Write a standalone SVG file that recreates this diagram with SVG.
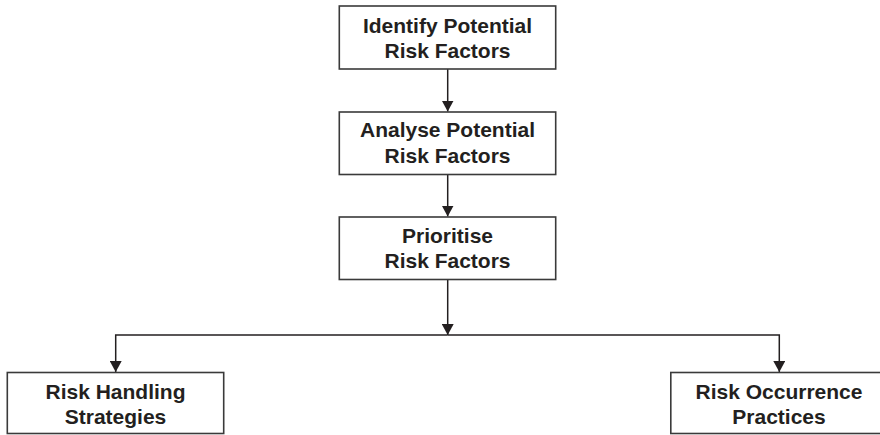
<svg xmlns="http://www.w3.org/2000/svg" width="880" height="435" viewBox="0 0 880 435">
  <style>
    .box { fill: #ffffff; stroke: #3a3a3a; stroke-width: 1.6; }
    .lbl { font-family: "Liberation Sans", Arial, sans-serif; font-weight: bold; font-size: 21px; fill: #231f20; text-anchor: middle; }
    .wire { fill: none; stroke: #231f20; stroke-width: 1.5; marker-end: url(#tip); }
  </style>
  <defs>
    <!-- solid triangular arrowhead, tip at the end of the line -->
    <marker id="tip" viewBox="0 0 11 12" refX="11" refY="6" markerWidth="11" markerHeight="12" markerUnits="userSpaceOnUse" orient="auto">
      <path d="M0,0 L11,6 L0,12 Z" fill="#231f20"/>
    </marker>
  </defs>
  <rect width="880" height="435" fill="#ffffff"/>

  <g id="connectors">
    <path class="wire" d="M447.7,69 V111.5"/>
    <path class="wire" d="M447.7,174.5 V216.5"/>
    <path class="wire" d="M447.7,279.5 V335"/>
    <path class="wire" d="M447.7,335 H115.7 V372"/>
    <path class="wire" d="M447.7,335 H779.3 V372"/>
  </g>

  <g id="identify">
    <rect class="box" x="339.3" y="6" width="216.4" height="63"/>
    <text class="lbl" x="447.5" y="32.5">Identify Potential</text>
    <text class="lbl" x="447.5" y="57.5">Risk Factors</text>
  </g>

  <g id="analyse">
    <rect class="box" x="339.3" y="112" width="216.4" height="62.5"/>
    <text class="lbl" x="447.5" y="137">Analyse Potential</text>
    <text class="lbl" x="447.5" y="162.5">Risk Factors</text>
  </g>

  <g id="prioritise">
    <rect class="box" x="339.3" y="217" width="216.4" height="62.5"/>
    <text class="lbl" x="447.5" y="242.5">Prioritise</text>
    <text class="lbl" x="447.5" y="267.5">Risk Factors</text>
  </g>

  <g id="handling">
    <rect class="box" x="7.3" y="372.5" width="216.4" height="61"/>
    <text class="lbl" x="115.5" y="398.5">Risk Handling</text>
    <text class="lbl" x="115.5" y="423.5">Strategies</text>
  </g>

  <g id="occurrence">
    <rect class="box" x="670.8" y="372.5" width="216.4" height="61"/>
    <text class="lbl" x="779" y="398.5">Risk Occurrence</text>
    <text class="lbl" x="779" y="423.5">Practices</text>
  </g>
</svg>
